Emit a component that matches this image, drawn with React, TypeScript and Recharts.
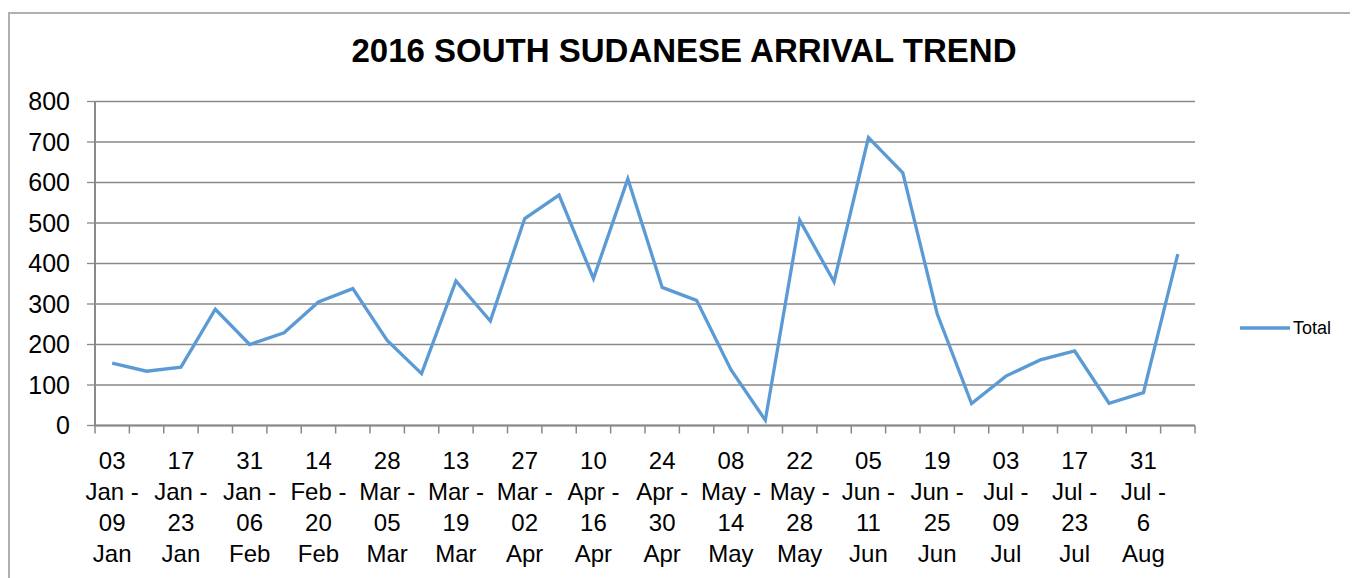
import { LineChart, Line, XAxis, YAxis, CartesianGrid, Legend } from 'recharts'

const weeks = [
  '03 Jan - 09 Jan', '10 Jan - 16 Jan', '17 Jan - 23 Jan', '24 Jan - 30 Jan',
  '31 Jan - 06 Feb', '07 Feb - 13 Feb', '14 Feb - 20 Feb', '21 Feb - 27 Feb',
  '28 Mar - 05 Mar', '06 Mar - 12 Mar', '13 Mar - 19 Mar', '20 Mar - 26 Mar',
  '27 Mar - 02 Apr', '03 Apr - 09 Apr', '10 Apr - 16 Apr', '17 Apr - 23 Apr',
  '24 Apr - 30 Apr', '01 May - 07 May', '08 May - 14 May', '15 May - 21 May',
  '22 May - 28 May', '29 May - 04 Jun', '05 Jun - 11 Jun', '12 Jun - 18 Jun',
  '19 Jun - 25 Jun', '26 Jun - 02 Jul', '03 Jul - 09 Jul', '10 Jul - 16 Jul',
  '17 Jul - 23 Jul', '24 Jul - 30 Jul', '31 Jul - 6 Aug', '07 Aug - 13 Aug',
]

const totals = [
  154, 134, 144, 287, 200, 229, 305, 338, 210, 128, 357, 258, 511, 569, 363, 609,
  341, 309, 138, 13, 507, 355, 711, 624, 276, 54, 122, 162, 184, 55, 81, 423,
]

const yTicks = [0, 100, 200, 300, 400, 500, 600, 700, 800]

const data = weeks.map((week, i) => ({ week, Total: totals[i] }))

const W = 1348
const H = 564
const LEGEND_W = 120
// right margin leaves room for the legend, which recharts adds on top
const MARGIN = { top: 87.5, right: 163 - LEGEND_W, bottom: 2.5, left: 25 }
const Y_WIDTH = 60
const BAND = (W - MARGIN.left - Y_WIDTH - MARGIN.right - LEGEND_W) / weeks.length
const GREY = '#898989'
const BLUE = '#5B9BD5'
const FONT = '"Liberation Sans", Arial, sans-serif'

const WeekTick = (props: any) => {
  const { x, y, payload } = props
  const i = payload.index
  const parts = String(payload.value).split(' ')
  const lines = [parts[0], parts[1] + ' -', parts[3], parts[4]]
  return (
    <g>
      <line x1={x - BAND / 2} y1={y} x2={x - BAND / 2} y2={y + 8} stroke={GREY} strokeWidth={1.5} />
      {i === weeks.length - 1 && (
        <line x1={x + BAND / 2} y1={y} x2={x + BAND / 2} y2={y + 8} stroke={GREY} strokeWidth={1.5} />
      )}
      {i % 2 === 0 &&
        lines.map((t, k) => (
          <text key={k} x={x} y={y + 43.5 + k * 31} textAnchor="middle" fontSize={24} fill="#000" fontFamily={FONT}>
            {t}
          </text>
        ))}
    </g>
  )
}

const LegendBox = () => (
  <svg width={LEGEND_W} height={30} style={{ display: 'block' }}>
    <line x1={5} y1={14} x2={55} y2={14} stroke={BLUE} strokeWidth={3.3} />
    <text x={58} y={20} fontSize={18} fill="#000" fontFamily={FONT}>Total</text>
  </svg>
)

export default function App() {
  return (
    <div
      style={{
        position: 'relative',
        marginTop: 4,
        width: W,
        height: H,
        borderTop: '2px solid #b0b0b0',
        borderLeft: '2px solid #b0b0b0',
        fontFamily: FONT,
        background: '#fff',
      }}
    >
      <div
        style={{
          position: 'absolute',
          top: 21,
          left: 0,
          width: W,
          textAlign: 'center',
          fontSize: 33,
          lineHeight: '32px',
          fontWeight: 'bold',
          color: '#000',
          zIndex: 2,
        }}
      >
        2016 SOUTH SUDANESE ARRIVAL TREND
      </div>
      <LineChart width={W} height={H} data={data} margin={MARGIN}>
        <CartesianGrid vertical={false} stroke={GREY} strokeWidth={1.3} />
        <XAxis
          dataKey="week"
          scale="band"
          interval={0}
          height={150}
          tickSize={0}
          tickMargin={0}
          tickLine={false}
          axisLine={{ stroke: GREY, strokeWidth: 2 }}
          tick={<WeekTick />}
        />
        <YAxis
          width={Y_WIDTH}
          domain={[0, 800]}
          ticks={yTicks}
          interval={0}
          tickSize={8}
          tickMargin={17}
          tickLine={{ stroke: GREY, strokeWidth: 1.3 }}
          axisLine={{ stroke: GREY, strokeWidth: 2 }}
          tick={{ fontSize: 25, fill: '#000', fontFamily: FONT }}
        />
        <Legend
          layout="vertical"
          align="right"
          verticalAlign="middle"
          content={<LegendBox />}
          wrapperStyle={{ position: 'absolute', left: 1225, top: 300, width: LEGEND_W, height: 30 }}
        />
        <Line
          type="linear"
          dataKey="Total"
          stroke={BLUE}
          strokeWidth={3.3}
          dot={false}
          isAnimationActive={false}
        />
      </LineChart>
    </div>
  )
}
